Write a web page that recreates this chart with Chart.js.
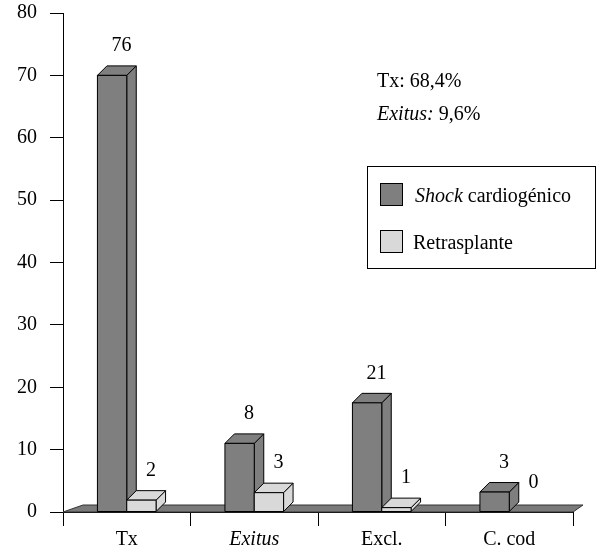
<!DOCTYPE html>
<html>
<head>
<meta charset="utf-8">
<script src="https://cdn.jsdelivr.net/npm/chart.js@4/dist/chart.umd.min.js"></script>
<style>
  html, body { margin: 0; padding: 0; background: #fff; }
  #wrap { width: 600px; height: 554px; }
</style>
</head>
<body>
<div id="wrap"><canvas id="c" width="600" height="554"></canvas></div>
<script>
const categories = ['Tx', 'Exitus', 'Excl.', 'C. cod'];
const italicCats = [false, true, false, false];
const shockValues = [70, 11, 17.5, 3.2];
const retrValues = [1.9, 3.1, 0.7, 0];
const shockLabels = ['76', '8', '21', '3'];
const retrLabels = ['2', '3', '1', '0'];
const notes = [[['Tx:', false], [' 68,4%', false]], [['Exitus:', true], [' 9,6%', false]]];
const legendItems = [[['Shock', true], [' cardiogénico', false]], [['Retrasplante', false]]];

const SHOCK = '#7f7f7f', RETR = '#d9d9d9', FLOOR = '#7a7a7a';
const FONT = '"Liberation Serif", "Times New Roman", serif';
const DX = 9.5, DY = 9.5;

function font(size, it) { return (it ? 'italic ' : '') + size + 'px ' + FONT; }

function drawRich(ctx, segs, x, y) {
    segs.forEach(([t, it]) => {
        ctx.font = font(20, it);
        ctx.fillText(t, x, y);
        x += ctx.measureText(t).width;
    });
}

function poly(ctx, pts, fill) {
    ctx.beginPath();
    ctx.moveTo(pts[0][0], pts[0][1]);
    for (let k = 1; k < pts.length; k++) ctx.lineTo(pts[k][0], pts[k][1]);
    ctx.closePath();
    ctx.fillStyle = fill;
    ctx.fill();
    ctx.stroke();
}

const bars3d = {
    id: 'bars3d',
    beforeDatasetsDraw(chart) {
        const { ctx, chartArea: a } = chart;
        const b = a.bottom;
        ctx.save();
        ctx.strokeStyle = '#333';
        ctx.lineWidth = 1;
        poly(ctx, [[a.left, b], [a.left + 20, b - 7], [a.right + 10, b - 7], [a.right, b]], FLOOR);
        ctx.restore();
    },
    afterDatasetsDraw(chart) {
        const { ctx } = chart;
        const labels = [shockLabels, retrLabels];
        ctx.save();
        ctx.strokeStyle = '#000';
        ctx.lineWidth = 1;
        categories.forEach((_, i) => {
            [0, 1].forEach(d => {
                const el = chart.getDatasetMeta(d).data[i];
                const col = chart.data.datasets[d].backgroundColor;
                const l = el.x - el.width / 2, r = el.x + el.width / 2, t = el.y, bs = el.base;
                if (chart.data.datasets[d].data[i] > 0) {
                    poly(ctx, [[r, t], [r + DX, t - DY], [r + DX, bs - DY], [r, bs]], col);
                    poly(ctx, [[l, t], [l + DX, t - DY], [r + DX, t - DY], [r, t]], col);
                    poly(ctx, [[l, t], [r, t], [r, bs], [l, bs]], col);
                }
                ctx.fillStyle = '#000';
                ctx.font = font(20, false);
                ctx.textAlign = 'center';
                ctx.textBaseline = 'middle';
                ctx.fillText(labels[d][i], el.x + DX, t - DY - 20);
            });
        });
        ctx.restore();
    },
    afterDraw(chart) {
        const { ctx } = chart;
        ctx.save();
        ctx.fillStyle = '#000';
        ctx.textAlign = 'left';
        ctx.textBaseline = 'middle';
        notes.forEach((segs, k) => drawRich(ctx, segs, 377, 82 + k * 33));
        ctx.strokeStyle = '#000';
        ctx.lineWidth = 1;
        ctx.strokeRect(367.5, 166.5, 228, 102);
        const cols = [SHOCK, RETR];
        legendItems.forEach((segs, k) => {
            const y = 183.5 + k * 47;
            ctx.fillStyle = cols[k];
            ctx.fillRect(380.5, y, 22, 22);
            ctx.strokeRect(380.5, y, 22, 22);
            ctx.fillStyle = '#000';
            drawRich(ctx, segs, k === 0 ? 415 : 413, y + 13);
        });
        ctx.restore();
    }
};

new Chart(document.getElementById('c'), {
    type: 'bar',
    data: {
        labels: categories,
        datasets: [
            { label: 'Shock cardiogénico', data: shockValues, backgroundColor: SHOCK, borderColor: '#000', borderWidth: 1 },
            { label: 'Retrasplante', data: retrValues, backgroundColor: RETR, borderColor: '#000', borderWidth: 1 }
        ]
    },
    options: {
        responsive: false,
        animation: false,
        layout: { padding: { top: 13, right: 27, left: 0, bottom: 0 } },
        datasets: { bar: { categoryPercentage: 0.46, barPercentage: 1 } },
        plugins: { legend: { display: false }, tooltip: { enabled: false } },
        scales: {
            x: {
                grid: { offset: true, drawOnChartArea: false, color: '#000', tickLength: 14 },
                border: { color: '#000' },
                ticks: {
                    color: '#000', padding: 2,
                    font: c => ({ family: FONT, size: 20, style: italicCats[c.index] ? 'italic' : 'normal' })
                },
                afterFit: s => { s.height = 42; s.paddingLeft = 0; s.paddingRight = 0; }
            },
            y: {
                min: 0, max: 80,
                grid: { drawOnChartArea: false, color: '#000', tickLength: 13 },
                border: { color: '#000' },
                ticks: { stepSize: 10, color: '#000', padding: 13, font: { family: FONT, size: 20 } },
                afterFit: s => { s.width = 63; s.paddingTop = 0; s.paddingBottom = 0; }
            }
        }
    },
    plugins: [bars3d]
});
</script>
</body>
</html>
